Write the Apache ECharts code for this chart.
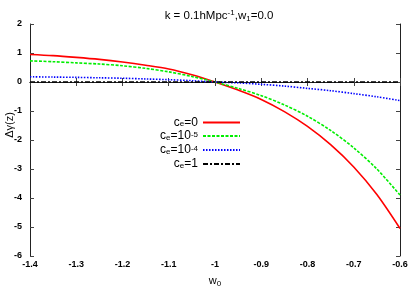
<!DOCTYPE html>
<html><head><meta charset="utf-8">
<script src="https://cdn.jsdelivr.net/npm/echarts@6/dist/echarts.min.js"></script>
<style>html,body{margin:0;padding:0;background:#fff}#c{width:415px;height:291px}</style>
</head><body><div id="c"></div>
<script>
const w0 = [-1.4,-1.35,-1.3,-1.25,-1.2,-1.15,-1.1,-1.05,-1.0,-0.95,-0.9,-0.85,-0.8,-0.75,-0.7,-0.65,-0.6];
const ce0   = [0.95,0.91,0.85,0.78,0.69,0.58,0.45,0.25,0.0,-0.28,-0.60,-1.02,-1.53,-2.16,-2.93,-3.88,-5.05];
const ce1e5 = [0.73,0.70,0.66,0.62,0.56,0.47,0.35,0.19,0.0,-0.22,-0.47,-0.79,-1.18,-1.67,-2.27,-3.0,-3.9];
const ce1e4 = [0.18,0.17,0.16,0.145,0.13,0.105,0.08,0.045,0.0,-0.03,-0.08,-0.14,-0.22,-0.30,-0.40,-0.51,-0.64];
const ce1   = [0,0,0,0,0,0,0,0,0,0,0,0,0,0,0,0,0];
const xTicks = [-1.4,-1.3,-1.2,-1.1,-1,-0.9,-0.8,-0.7,-0.6];
const yTicks = [2,1,0,-1,-2,-3,-4,-5,-6];
const names = ['ce0','ce1e5','ce1e4','ce1'];

const pair = a => w0.map((x,i)=>[x,a[i]]);
const chart = echarts.init(document.getElementById('c'));
const font = 'Liberation Sans, Arial, sans-serif';
const legendRich = {
  a:{fontSize:12,fontFamily:font,color:'#000',lineHeight:11},
  s:{fontSize:8,fontFamily:font,color:'#000',verticalAlign:'bottom',lineHeight:7,padding:[4,0,0,0]},
  p:{fontSize:8,fontFamily:font,color:'#000',verticalAlign:'top',lineHeight:7,padding:[0,0,4,0]}
};
const legendText = {
  ce0:'{a|c}{s|e}{a|=0}',
  ce1e5:'{a|c}{s|e}{a|=10}{p|-5}',
  ce1e4:'{a|c}{s|e}{a|=10}{p|-4}',
  ce1:'{a|c}{s|e}{a|=1}'
};
const axisCommon = {
  type:'value', min:-1.4, max:-0.6, interval:0.1,
  axisLine:{lineStyle:{color:'#222',width:1}},
  axisTick:{inside:true,length:4,lineStyle:{color:'#444'}},
  splitLine:{show:false}
};
chart.setOption({
  animation:false,
  backgroundColor:'#fff',
  title:{
    text:'{t|k = 0.1hMpc}{p|-1}{t|,w}{s|1}{t|=0.0}',
    left:214, top:4, textAlign:'center',
    textStyle:{fontWeight:'normal',rich:{
      t:{fontSize:11.5,fontWeight:'normal',fontFamily:font,color:'#000'},
      p:{fontSize:8,fontWeight:'normal',fontFamily:font,color:'#000',verticalAlign:'top',padding:[0,0,6,0]},
      s:{fontSize:8,fontWeight:'normal',fontFamily:font,color:'#000',verticalAlign:'bottom',padding:[5,0,0,0]}
    }}
  },
  grid:{left:30,right:15,top:24,bottom:35,containLabel:false,outerBoundsMode:'none'},
  legend:{
    orient:'vertical', right:415-241, top:116, align:'right',
    itemWidth:37, itemHeight:10, itemGap:1, padding:[0,0,0,0],
    data:names,
    itemStyle:{opacity:0},
    formatter:n=>legendText[n],
    textStyle:{rich:legendRich}
  },
  graphic:[{
    type:'text', x:4, y:125, rotation:Math.PI/2,
    style:{text:'Δγ(z)', font:'11px Liberation Sans, Arial, sans-serif', fill:'#000', textAlign:'center', textVerticalAlign:'top'}
  }],
  xAxis:[
    Object.assign({},axisCommon,{position:'bottom',
      name:'{a|w}{s|0}', nameLocation:'middle', nameGap:18,
      nameTextStyle:{rich:{a:{fontSize:11,fontFamily:font,color:'#000'},s:{fontSize:8,fontFamily:font,color:'#000',verticalAlign:'bottom',padding:[6,0,0,0]}}},
      axisLabel:{fontSize:9,fontWeight:'bold',fontFamily:font,color:'#000',margin:4,
        formatter:v=>{const t=xTicks.find(x=>Math.abs(x-v)<1e-6);return t===undefined?'':String(t);}}}),
    Object.assign({},axisCommon,{position:'top',axisLabel:{show:false}})
  ],
  yAxis:[
    {type:'value',min:-6,max:2,interval:1,position:'left',
      axisLine:{lineStyle:{color:'#222'}},axisTick:{inside:true,length:4,lineStyle:{color:'#444'}},splitLine:{show:false},
      axisLabel:{fontSize:9,fontWeight:'bold',fontFamily:font,color:'#000',margin:8,
        formatter:v=>{const t=yTicks.find(y=>Math.abs(y-v)<1e-6);return t===undefined?'':String(t);}}},
    {type:'value',min:-6,max:2,interval:1,position:'right',
      axisLine:{lineStyle:{color:'#222'}},axisTick:{inside:true,length:4,lineStyle:{color:'#444'}},splitLine:{show:false},axisLabel:{show:false}}
  ],
  series:[
    {name:'ce0',type:'line',data:pair(ce0),smooth:0.3,symbol:'none',lineStyle:{color:'#ff0000',width:1.6,type:'solid'},itemStyle:{color:'#ff0000'}},
    {name:'ce1e5',type:'line',data:pair(ce1e5),smooth:0.3,symbol:'none',lineStyle:{color:'#00ee00',width:1.6,type:[3,1.5]},itemStyle:{color:'#00ee00'}},
    {name:'ce1e4',type:'line',data:pair(ce1e4),smooth:0.3,symbol:'none',lineStyle:{color:'#0000ff',width:1.6,type:[1.5,1.5]},itemStyle:{color:'#0000ff'}},
    {name:'ce1',type:'line',data:pair(ce1),symbol:'none',lineStyle:{color:'#000',width:1.4,type:[5,2,2,2]},itemStyle:{color:'#000'}}
  ]
});
</script></body></html>
